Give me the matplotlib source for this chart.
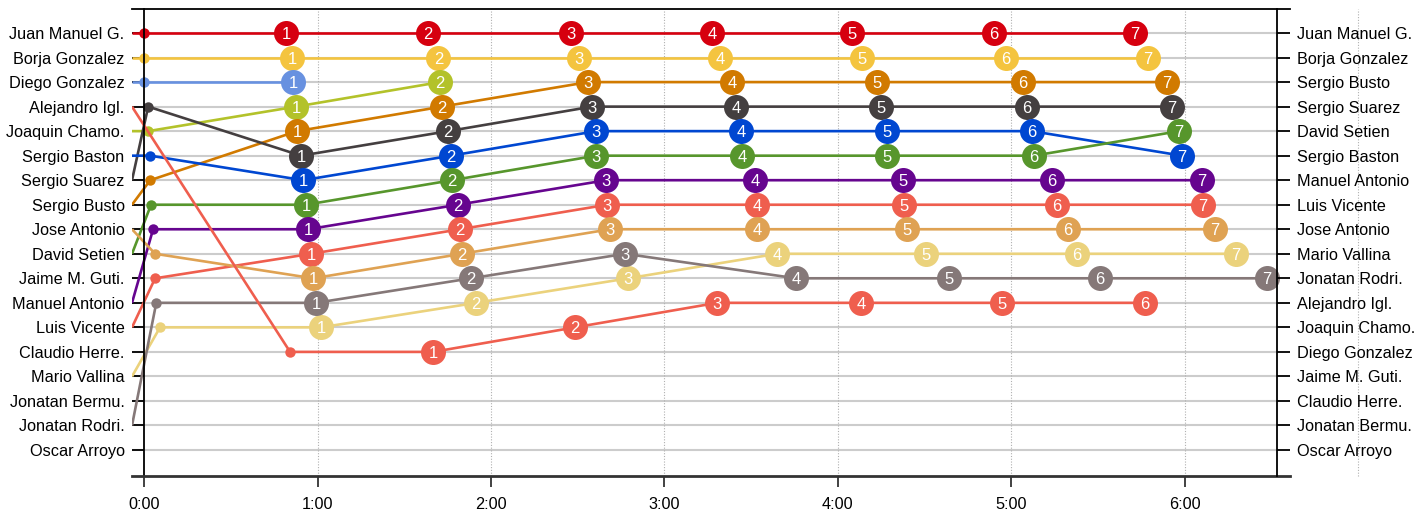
import matplotlib
matplotlib.use("Agg")
import matplotlib.pyplot as plt

plt.rcParams["font.family"] = ["Liberation Sans", "DejaVu Sans"]

# orden de salida (parrilla) y clasificación final
parrilla = ["Juan Manuel G.", "Borja Gonzalez", "Diego Gonzalez", "Alejandro Igl.",
            "Joaquin Chamo.", "Sergio Baston", "Sergio Suarez", "Sergio Busto",
            "Jose Antonio", "David Setien", "Jaime M. Guti.", "Manuel Antonio",
            "Luis Vicente", "Claudio Herre.", "Mario Vallina", "Jonatan Bermu.",
            "Jonatan Rodri.", "Oscar Arroyo"]

final = ["Juan Manuel G.", "Borja Gonzalez", "Sergio Busto", "Sergio Suarez",
         "David Setien", "Sergio Baston", "Manuel Antonio", "Luis Vicente",
         "Jose Antonio", "Mario Vallina", "Jonatan Rodri.", "Alejandro Igl.",
         "Joaquin Chamo.", "Diego Gonzalez", "Jaime M. Guti.", "Claudio Herre.",
         "Jonatan Bermu.", "Oscar Arroyo"]

# pilotos con vueltas registradas
pilotos = ["Juan Manuel G.", "Borja Gonzalez", "Diego Gonzalez", "Joaquin Chamo.",
           "Sergio Busto", "Sergio Suarez", "Sergio Baston", "David Setien",
           "Manuel Antonio", "Luis Vicente", "Jose Antonio", "Mario Vallina",
           "Jonatan Rodri.", "Alejandro Igl."]

colores = ["#d6000f", "#f4c43f", "#6891e0", "#b3c22a", "#d17a00", "#443f40",
           "#0047d1", "#57962c", "#66058f", "#ef5e4e", "#dfa253", "#ebd27c",
           "#857878", "#ef5e4e"]

# salida: tiempo (s) y posición tras la salida
salida_t = [0.0, 0.0, 0.0, 1.4, 2.1, 1.4, 2.1, 2.4, 3.1, 3.8, 3.8, 5.5, 4.2, 50.5]
salida_pos = [1, 2, 3, 5, 7, 4, 6, 8, 9, 11, 10, 13, 12, 14]

# tiempo (s) al final de cada vuelta
vueltas_t = [
    [49.1, 98.3, 147.8, 196.5, 245.0, 294.1, 342.9],
    [51.2, 101.8, 150.6, 199.4, 248.4, 298.2, 347.4],
    [51.6],
    [52.6, 102.4],
    [52.9, 103.1, 153.6, 203.4, 253.6, 304.1, 354.0],
    [54.3, 105.2, 155.0, 204.8, 255.0, 305.5, 355.7],
    [55.0, 106.2, 156.4, 206.6, 257.1, 307.2, 359.1],
    [56.0, 106.6, 156.4, 206.9, 257.1, 307.9, 358.1],
    [56.7, 108.6, 159.9, 211.4, 262.6, 314.2, 366.1],
    [57.8, 109.3, 160.2, 212.1, 262.9, 315.9, 366.4],
    [58.5, 110.0, 161.2, 212.1, 264.0, 319.7, 370.6],
    [61.2, 114.9, 167.5, 219.0, 270.6, 322.8, 377.8],
    [59.5, 113.1, 166.4, 225.6, 278.5, 330.8, 388.6],
    [100.0, 149.1, 198.3, 248.1, 296.9, 346.3],
]

# posición al final de cada vuelta
vueltas_pos = [
    [1, 1, 1, 1, 1, 1, 1],
    [2, 2, 2, 2, 2, 2, 2],
    [3],
    [4, 3],
    [5, 4, 3, 3, 3, 3, 3],
    [6, 5, 4, 4, 4, 4, 4],
    [7, 6, 5, 5, 5, 5, 6],
    [8, 7, 6, 6, 6, 6, 5],
    [9, 8, 7, 7, 7, 7, 7],
    [10, 9, 8, 8, 8, 8, 8],
    [11, 10, 9, 9, 9, 9, 9],
    [13, 12, 11, 10, 10, 10, 10],
    [12, 11, 10, 11, 11, 11, 11],
    [14, 13, 12, 12, 12, 12],
]

x_min, x_max, x_eje_der = -4.2, 396.5, 392.0
filas = list(range(1, len(parrilla) + 1))
tam = 11.7

fig = plt.figure(figsize=(14.16, 5.15), dpi=100)
ax = fig.add_axes([132 / 1416, 39 / 515, 1158 / 1416, 467 / 515])
ax.set_xlim(x_min, x_max)
ax.set_ylim(19.06, 0.02)

# rejilla
ax.hlines(filas, x_min, x_eje_der, color="#cccccc", lw=1.5, zorder=1)
for m in range(1, 8):
    ax.axvline(m * 60, color="#b0b0b0", lw=0.8, ls=(0, (1, 1.5)),
               zorder=1, clip_on=False)

for i, nombre in enumerate(pilotos):
    pos_salida = parrilla.index(nombre) + 1
    xs = [x_min, salida_t[i]] + vueltas_t[i]
    ys = [pos_salida, salida_pos[i]] + vueltas_pos[i]
    z = 3 + i * 0.01
    ax.plot(xs, ys, color=colores[i], lw=1.9, zorder=z, solid_capstyle="butt")
    ax.plot(salida_t[i], salida_pos[i], "o", color=colores[i], ms=7.5, mew=0, zorder=z)
    ax.plot(vueltas_t[i], vueltas_pos[i], "o", color=colores[i], ms=18, mew=0, zorder=z)
    for n, (t, p) in enumerate(zip(vueltas_t[i], vueltas_pos[i]), start=1):
        ax.text(t, p, str(n), color="white", fontsize=12, ha="center",
                va="center_baseline", zorder=z + 0.005)

# ejes
ax.set_yticks(filas)
ax.set_yticklabels(parrilla)
ax.set_xticks([m * 60 for m in range(7)])
ax.set_xticklabels([f"{m}:00" for m in range(7)])
ax.spines["left"].set_position(("data", 0))
ax.spines["right"].set_visible(False)
ax.spines["left"].set_linewidth(1.3)
ax.spines["top"].set_linewidth(1.3)
ax.spines["bottom"].set_linewidth(2)
ax.spines["bottom"].set_color("#333333")
ax.tick_params(axis="y", length=8.6, width=1.3, pad=5.5, direction="out", labelsize=tam)
ax.tick_params(axis="x", length=8, width=1.3, pad=7, color="#333333", labelsize=tam)
for s in ax.spines.values():
    s.set_zorder(6)

ax2 = ax.twinx()
ax2.set_ylim(ax.get_ylim())
ax2.set_yticks(filas)
ax2.set_yticklabels(final)
ax2.spines["right"].set_position(("data", x_eje_der))
ax2.spines["right"].set_linewidth(1.3)
for lado in ["left", "top", "bottom"]:
    ax2.spines[lado].set_visible(False)
ax2.tick_params(axis="y", length=9.4, width=1.3, pad=5, direction="out", labelsize=tam)

fig.savefig("out.png", dpi=100)
